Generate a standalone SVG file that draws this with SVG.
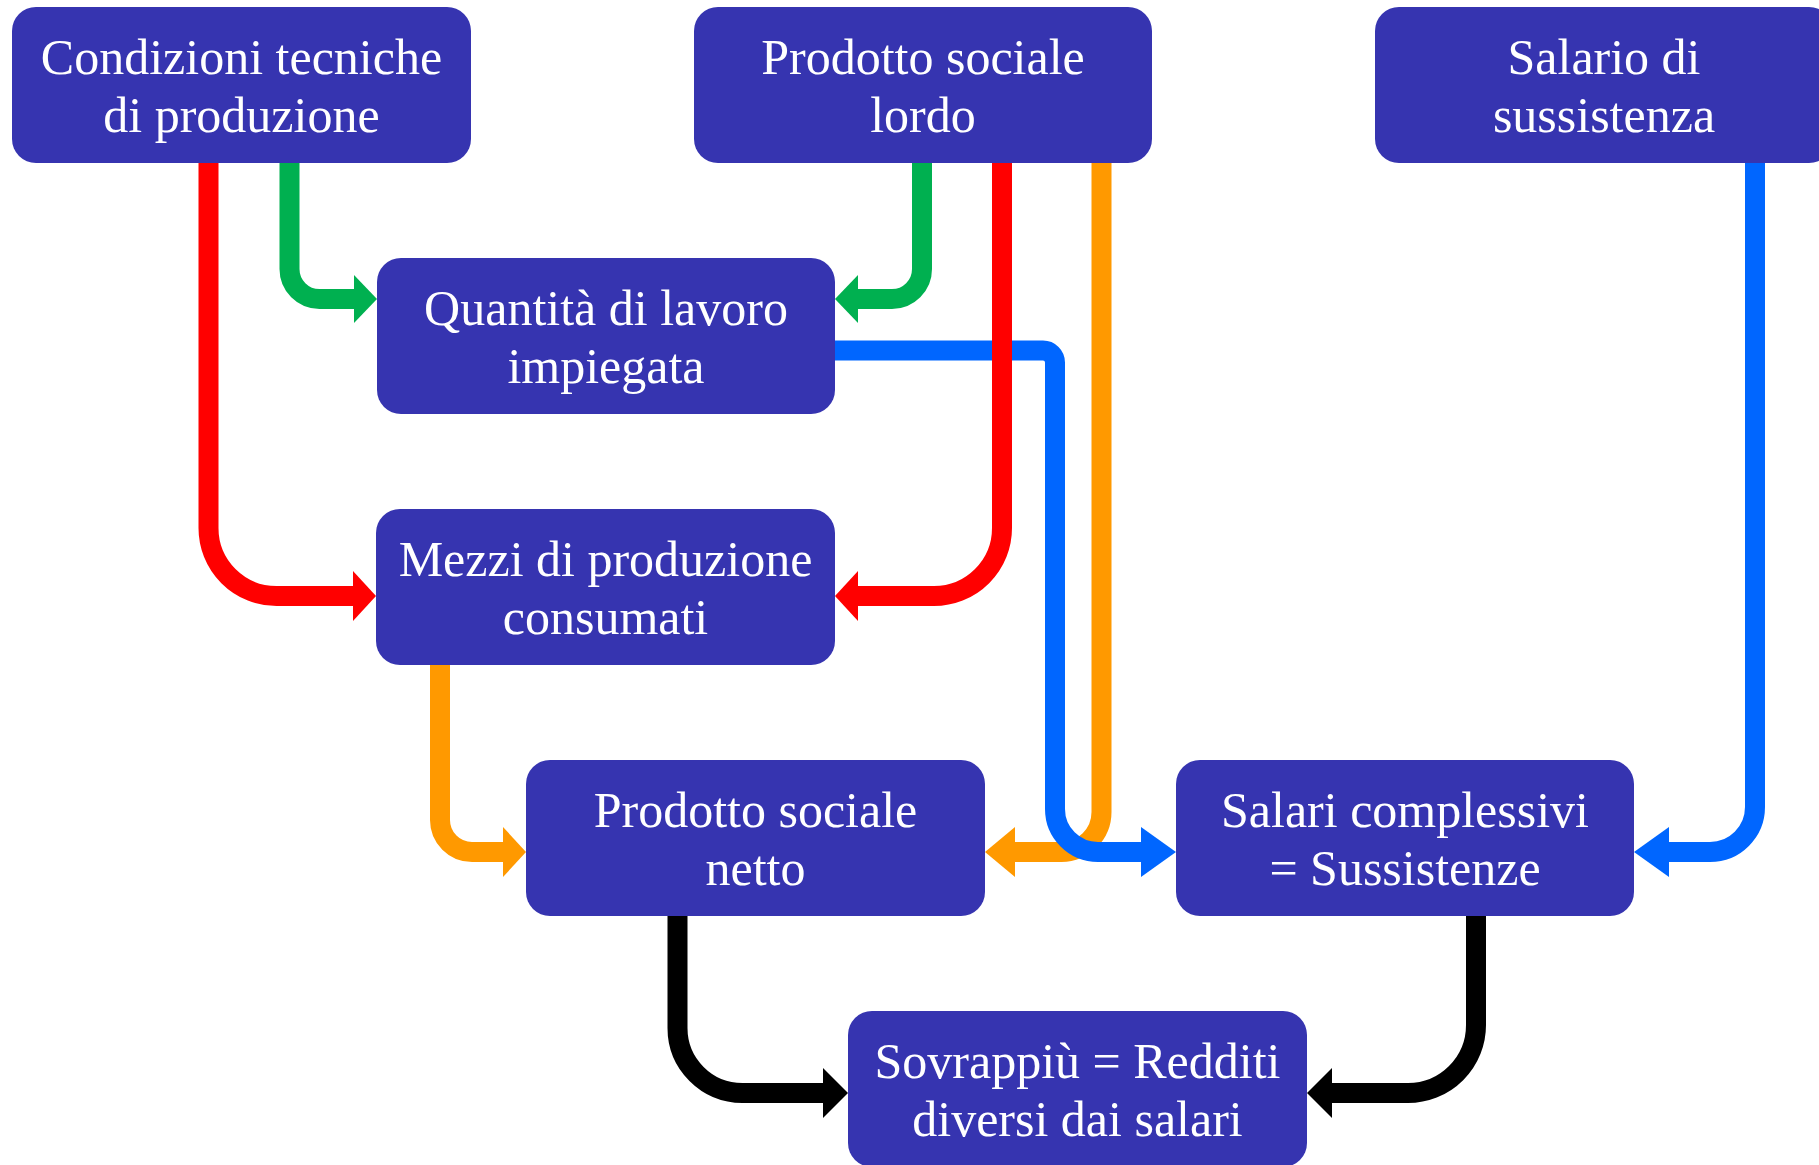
<svg xmlns="http://www.w3.org/2000/svg" width="1819" height="1165" viewBox="0 0 1819 1165">
<style>
.box{fill:#3634B0;}
.lbl{fill:#FFFFFF;font-family:"Liberation Serif","Times New Roman",serif;font-size:50px;text-anchor:middle;}
.c{fill:none;stroke-width:20;stroke-linecap:butt;stroke-linejoin:round;}
.g{stroke:#00B050;}
.r{stroke:#FF0000;}
.o{stroke:#FF9900;}
.b{stroke:#0066FF;}
.k{stroke:#000000;}
</style>
<defs>
<marker id="mg" markerUnits="userSpaceOnUse" viewBox="0 -25 24 50" markerWidth="24" markerHeight="50" refX="0" refY="0" orient="auto" overflow="visible"><path d="M0,-24 L23,0 L0,24 Z" fill="#00B050"/></marker>
<marker id="mr" markerUnits="userSpaceOnUse" viewBox="0 -25 24 50" markerWidth="24" markerHeight="50" refX="0" refY="0" orient="auto" overflow="visible"><path d="M0,-25 L23,0 L0,25 Z" fill="#FF0000"/></marker>
<marker id="mk" markerUnits="userSpaceOnUse" viewBox="0 -25 26 50" markerWidth="26" markerHeight="50" refX="0" refY="0" orient="auto" overflow="visible"><path d="M0,-25 L25,0 L0,25 Z" fill="#000000"/></marker>
<marker id="mo" markerUnits="userSpaceOnUse" viewBox="0 -25 24 50" markerWidth="24" markerHeight="50" refX="0" refY="0" orient="auto" overflow="visible"><path d="M0,-25 L23,0 L0,25 Z" fill="#FF9900"/></marker>
<marker id="mol" markerUnits="userSpaceOnUse" viewBox="0 -25 32 50" markerWidth="32" markerHeight="50" refX="0" refY="0" orient="auto" overflow="visible"><path d="M0,-25 L30,0 L0,25 Z" fill="#FF9900"/></marker>
<marker id="mb" markerUnits="userSpaceOnUse" viewBox="0 -25 36 50" markerWidth="36" markerHeight="50" refX="0" refY="0" orient="auto" overflow="visible"><path d="M0,-25 L35,0 L0,25 Z" fill="#0066FF"/></marker>
</defs>
<rect width="1819" height="1165" fill="#FFFFFF"/>
<g id="connectors">
<path class="c o" d="M440,665 V820 A32,32 0 0 0 472,852 H503" marker-end="url(#mo)"/>
<path class="c o" d="M1101.5,163 V812 A40,40 0 0 1 1061.5,852 H1015" marker-end="url(#mol)"/>
<path class="c b" d="M835,350.5 H1043 A12,12 0 0 1 1055,362.5 V809 A43,43 0 0 0 1098,852 H1141" marker-end="url(#mb)"/>
<path class="c b" d="M1755,163 V807 A45,45 0 0 1 1710,852 H1669" marker-end="url(#mb)"/>
<path class="c r" d="M208.5,163 V528 A68,68 0 0 0 276.5,596 H353" marker-end="url(#mr)"/>
<path class="c r" d="M1002,163 V528 A68,68 0 0 1 934,596 H858" marker-end="url(#mr)"/>
<path class="c g" d="M289.5,163 V269 A30,30 0 0 0 319.5,299 H354" marker-end="url(#mg)"/>
<path class="c g" d="M922,163 V269 A30,30 0 0 1 892,299 H858" marker-end="url(#mg)"/>
<path class="c k" d="M677.5,916 V1028 A65,65 0 0 0 742.5,1093 H823" marker-end="url(#mk)"/>
<path class="c k" d="M1476,916 V1025 A68,68 0 0 1 1408,1093 H1332" marker-end="url(#mk)"/>
</g>
<g id="n1"><rect class="box" x="12" y="7" width="459" height="156" rx="24"/><text class="lbl" x="241.5" y="74">Condizioni tecniche</text><text class="lbl" x="241.5" y="132">di produzione</text></g>
<g id="n2"><rect class="box" x="694" y="7" width="458" height="156" rx="24"/><text class="lbl" x="923" y="74">Prodotto sociale</text><text class="lbl" x="923" y="132">lordo</text></g>
<g id="n3"><rect class="box" x="1375" y="7" width="458" height="156" rx="24"/><text class="lbl" x="1604" y="74">Salario di</text><text class="lbl" x="1604" y="132">sussistenza</text></g>
<g id="n4"><rect class="box" x="377" y="258" width="458" height="156" rx="24"/><text class="lbl" x="606" y="325">Quantità di lavoro</text><text class="lbl" x="606" y="383">impiegata</text></g>
<g id="n5"><rect class="box" x="376" y="509" width="459" height="156" rx="24"/><text class="lbl" x="605.5" y="576">Mezzi di produzione</text><text class="lbl" x="605.5" y="634">consumati</text></g>
<g id="n6"><rect class="box" x="526" y="760" width="459" height="156" rx="24"/><text class="lbl" x="755.5" y="827">Prodotto sociale</text><text class="lbl" x="755.5" y="885">netto</text></g>
<g id="n7"><rect class="box" x="1176" y="760" width="458" height="156" rx="24"/><text class="lbl" x="1405" y="827">Salari complessivi</text><text class="lbl" x="1405" y="885">= Sussistenze</text></g>
<g id="n8"><rect class="box" x="848" y="1011" width="459" height="156" rx="24"/><text class="lbl" x="1077.5" y="1078">Sovrappiù = Redditi</text><text class="lbl" x="1077.5" y="1136">diversi dai salari</text></g>
</svg>
